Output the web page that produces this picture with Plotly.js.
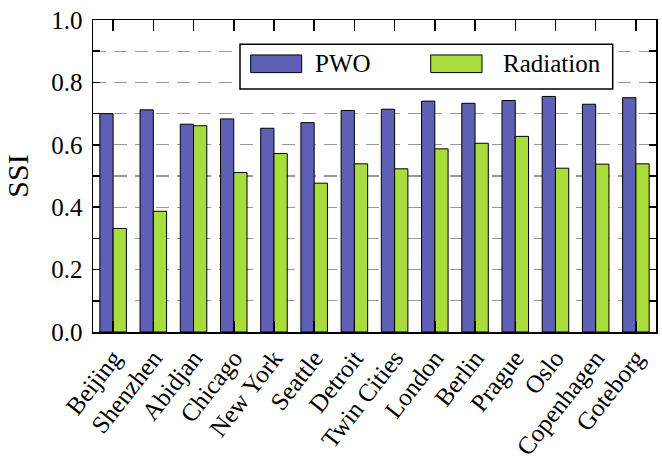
<!DOCTYPE html>
<html>
<head>
<meta charset="utf-8">
<style>
html,body{margin:0;padding:0;background:#fff;font-family:"Liberation Serif";}
#chart{position:absolute;left:0;top:0;width:662px;height:464px;z-index:1;}
#fontwarm{position:absolute;left:300px;top:200px;z-index:0;font-family:"Liberation Serif";font-size:25px;color:#fff;}
</style>
</head>
<body>
<div id="fontwarm">0.8 SSI</div>
<div id="chart"></div>
<script src="https://cdn.plot.ly/plotly-3.0.1.min.js"></script>
<script>
const cities = ["Beijing","Shenzhen","Abidjan","Chicago","New York","Seattle","Detroit","Twin Cities","London","Berlin","Prague","Oslo","Copenhagen","Goteborg"];
const pwo = [0.700,0.712,0.666,0.683,0.653,0.671,0.710,0.714,0.740,0.733,0.742,0.755,0.730,0.751];
const radiation = [0.332,0.387,0.661,0.511,0.572,0.477,0.539,0.523,0.587,0.605,0.627,0.525,0.538,0.539];
const seriesNames = ["PWO","Radiation"];
const seriesColors = ["#5e60b5","#a9dd3b"];
const yTicks = [0,0.2,0.4,0.6,0.8,1.0];

const W=662,H=464,L=93,R=6,T=20,B=131.5;
const pw=W-L-R, ph=H-T-B;
const fx=p=>(p-L)/pw, fy=p=>(H-B-p)/ph;
const FONT="Liberation Serif";

const traces=[pwo,radiation].map((vals,i)=>({
  type:"bar", x:cities, y:vals, name:seriesNames[i],
  marker:{color:seriesColors[i], line:{color:"#000", width:1}},
  hoverinfo:"x+y+name", showlegend:false
}));

const shapes=[
  {type:"rect",xref:"paper",yref:"paper",x0:fx(240),x1:fx(612.7),y0:fy(89),y1:fy(44.3),
   line:{color:"#000",width:1.5},fillcolor:"#fff",layer:"above"},
  {type:"rect",xref:"paper",yref:"paper",x0:fx(250.7),x1:fx(301.7),y0:fy(72.7),y1:fy(55),
   line:{color:"#000",width:1},fillcolor:seriesColors[0],layer:"above"},
  {type:"rect",xref:"paper",yref:"paper",x0:fx(430.7),x1:fx(482),y0:fy(72.7),y1:fy(55),
   line:{color:"#000",width:1},fillcolor:seriesColors[1],layer:"above"}
];
const annotations=[
  {xref:"paper",yref:"paper",x:fx(313),y:fy(64),xanchor:"left",yanchor:"middle",showarrow:false,
   text:seriesNames[0]},
  {xref:"paper",yref:"paper",x:fx(500.7),y:fy(64),xanchor:"left",yanchor:"middle",showarrow:false,
   text:seriesNames[1]}
];

const layout={
  width:W,height:H,
  margin:{l:L,r:R,t:T,b:B},
  font:{family:FONT,size:25,color:"black"},
  barmode:"group",bargap:0.34,bargroupgap:0,
  showlegend:false,
  xaxis:{type:"category",showline:true,linecolor:"#000",linewidth:1.5,mirror:"ticks",
    ticks:"inside",ticklen:11,tickwidth:1.5,tickcolor:"#000",tickangle:-52,
    showgrid:false,zeroline:false,range:[-0.5,13.5]},
  yaxis:{range:[0,1],tickvals:yTicks,tickformat:".1f",showline:true,linecolor:"#000",linewidth:1.5,
    mirror:"ticks",ticks:"inside",ticklen:7,tickwidth:1.5,tickcolor:"#000",
    showgrid:true,gridcolor:"#999",gridwidth:1.2,griddash:"13px,8px",zeroline:false,
    ticklabelstandoff:4,
    minor:{dtick:0.1,ticks:"inside",ticklen:7,tickwidth:1.5,tickcolor:"#000",
      showgrid:true,gridcolor:"#999",gridwidth:1.2,griddash:"13px,8px"},
    title:{text:"SSI",standoff:14}},
  shapes:shapes,annotations:annotations
};

Plotly.newPlot("chart",traces,layout,{staticPlot:true});
</script>
</body>
</html>
